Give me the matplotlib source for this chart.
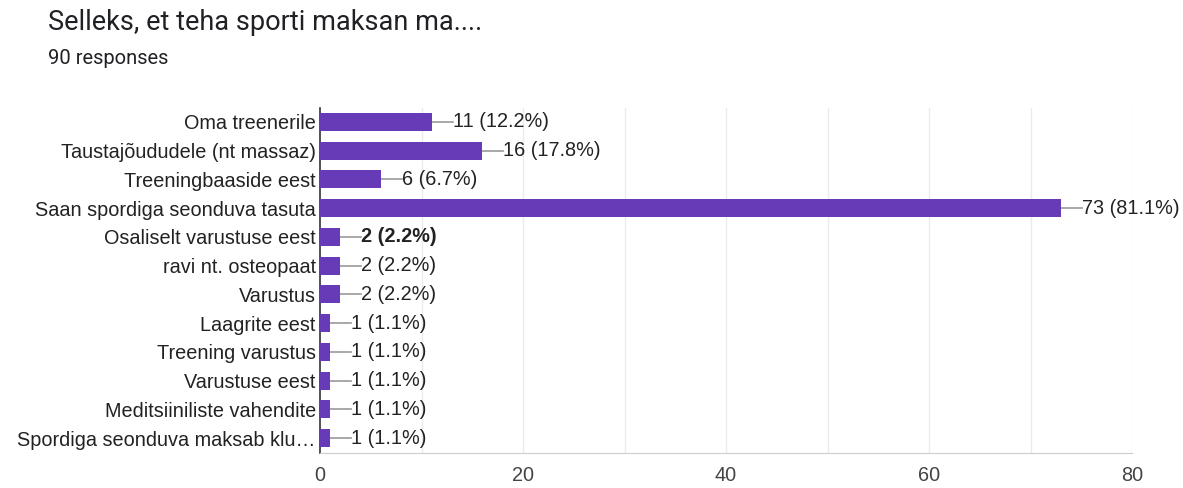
import matplotlib
matplotlib.use("Agg")
import matplotlib.pyplot as plt

categories = [
    "Oma treenerile",
    "Taustajõududele (nt massaz)",
    "Treeningbaaside eest",
    "Saan spordiga seonduva tasuta",
    "Osaliselt varustuse eest",
    "ravi nt. osteopaat",
    "Varustus",
    "Laagrite eest",
    "Treening varustus",
    "Varustuse eest",
    "Meditsiiniliste vahendite",
    "Spordiga seonduva maksab klu…",
]
counts = [11, 16, 6, 73, 2, 2, 2, 1, 1, 1, 1, 1]
percents = [12.2, 17.8, 6.7, 81.1, 2.2, 2.2, 2.2, 1.1, 1.1, 1.1, 1.1, 1.1]
bold_index = 4
xticks = [0, 20, 40, 60, 80]

W, H = 1183, 488
fig = plt.figure(figsize=(W / 100, H / 100), dpi=100)
ax = fig.add_axes([320 / W, 1 - 452.5 / H, (1132 - 320) / W, (452.5 - 107.5) / H])

ys = list(range(len(categories)))
ax.barh(ys, counts, height=0.63, color="#673ab7", zorder=3)
ax.set_ylim(len(categories) - 0.5, -0.5)
ax.set_xlim(0, 80)

for v in range(10, 81, 10):
    ax.axvline(v, color="#ebebeb", lw=1, zorder=1)

FS = 14.3
ax.set_yticks(ys)
ax.set_yticklabels(categories, fontsize=FS, family="Liberation Sans", color="#222222")
ax.set_xticks(xticks)
ax.set_xticklabels([str(x) for x in xticks], fontsize=FS, family="Liberation Sans", color="#444444")
ax.tick_params(axis="y", length=0, pad=3)
ax.tick_params(axis="x", length=0, pad=10)

for s in ["top", "right"]:
    ax.spines[s].set_visible(False)
ax.spines["bottom"].set_color("#cccccc")
ax.spines["left"].set_color("#333333")
ax.spines["left"].set_linewidth(1.2)

px = 80 / (1132 - 320)
for i, (c, p) in enumerate(zip(counts, percents)):
    ax.plot([c, c + 21 * px], [i, i], color="#999999", lw=1.2, zorder=2)
    ax.text(c + 21 * px, i, f"{c} ({p}%)", va="center", ha="left", fontsize=FS,
            family="Liberation Sans", color="#222222",
            fontweight="bold" if i == bold_index else "normal")

fig.text(48 / W, 1 - 23 / H, "Selleks, et teha sporti maksan ma....", fontsize=19.5,
         family="Roboto", color="#202124", va="center", ha="left")
fig.text(48 / W, 1 - 59 / H, "90 responses", fontsize=14.5, family="Roboto",
         color="#202124", va="center", ha="left")

fig.savefig("out.png", dpi=100)
